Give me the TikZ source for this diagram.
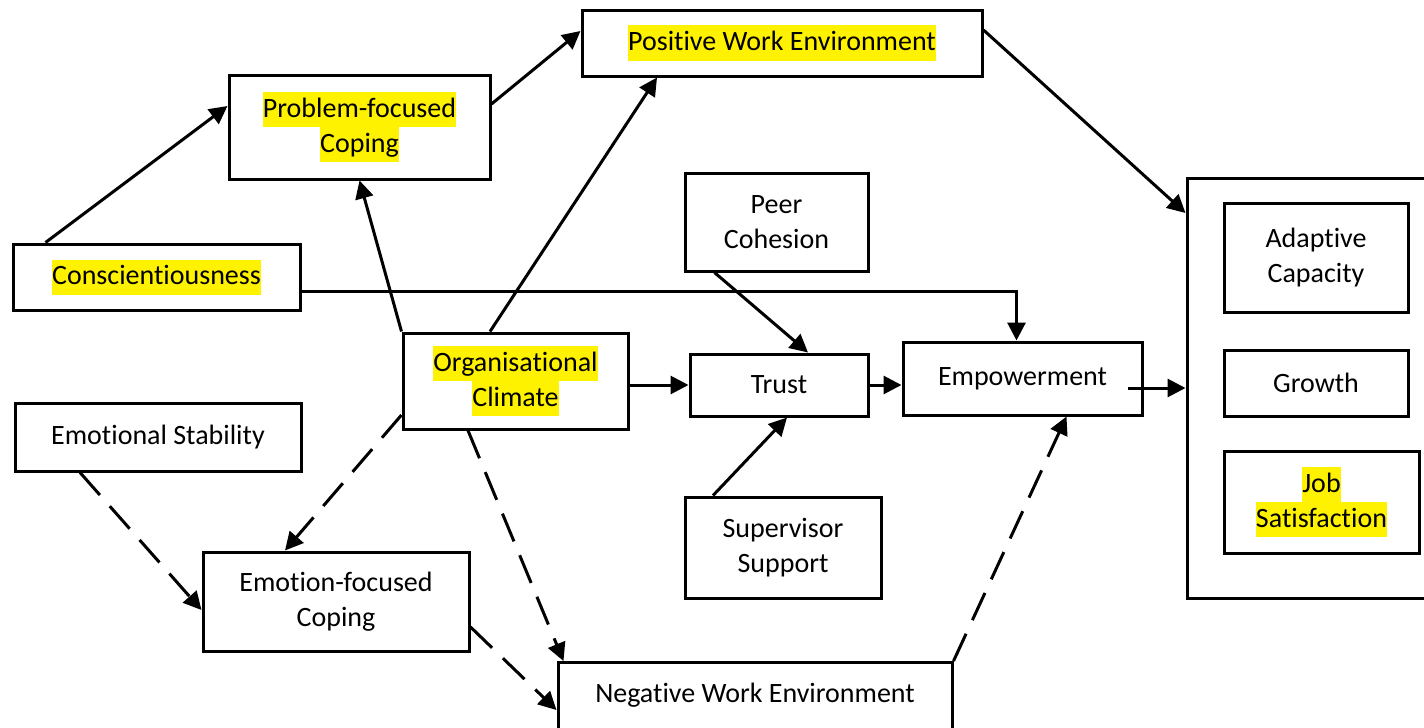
\documentclass[tikz,border=0pt]{standalone}
\usepackage{fontspec}
\setmainfont{Carlito}[Ligatures=NoCommon]
\usetikzlibrary{arrows.meta}
\newcommand\hlt[1]{{\setlength{\fboxsep}{0pt}\colorbox{yellow}{\rule[-5pt]{0pt}{17.5pt}#1}}}%黄色マーカー
\begin{document}
\begin{tikzpicture}[x=0.5pt,y=-0.5pt,%1px=0.5pt
  box/.style={draw, line width=1.5pt, align=center, inner sep=0pt, font=\fontsize{14pt}{17.5pt}\selectfont},
  arr/.style={line width=1.5pt, -{Triangle[length=9pt,width=9pt]}},
  dsh/.style={arr, dash pattern=on 15pt off 7.5pt}]
  \useasboundingbox (0,0) rectangle (1424,728);
  \node[box, minimum width=200pt, minimum height=33pt] (pwe) at (782,43) {\hlt{Positive Work Environment}};
  \node[box, minimum width=130.5pt, minimum height=52pt] (pfc) at (359.5,127) {\hlt{Problem-focused}\\\hlt{Coping}};
  \node[box, minimum width=143.5pt, minimum height=33pt] (con) at (156.5,277) {\hlt{Conscientiousness}};
  \node[box, minimum width=91.5pt, minimum height=49pt] (peer) at (776.5,222) {Peer\\Cohesion};
  \node[box, minimum width=112.5pt, minimum height=48pt] (oc) at (515.5,381) {\hlt{Organisational}\\\hlt{Climate}};
  \node[box, minimum width=89pt, minimum height=31pt] (trust) at (779,385) {Trust};
  \node[box, minimum width=119.5pt, minimum height=36.5pt] (emp) at (1022.5,378.5) {Empowerment};
  \node[box, minimum width=143pt, minimum height=34pt] (es) at (158,437) {Emotional Stability};
  \node[box, minimum width=98pt, minimum height=50.5pt] (ss) at (783,547.5) {Supervisor\\Support};
  \node[box, minimum width=133pt, minimum height=49.5pt] (efc) at (336,601.5) {Emotion-focused\\Coping};
  \node[box, minimum width=197pt, anchor=north, inner ysep=7.5pt, text height=12.5pt, text depth=40pt] (nwe) at (755,661) {Negative Work Environment};
  %結果の枠
  \node[box, minimum width=250pt, minimum height=210pt] (out) at (1437,388) {};
  \node[box, minimum width=92pt, minimum height=54.5pt] (ac) at (1316,257.5) {Adaptive\\Capacity};
  \node[box, minimum width=92pt, minimum height=33pt] (growth) at (1316,383) {Growth};
  \node[box, minimum width=97.5pt, minimum height=51pt] (js) at (1321.5,502) {\hlt{Job}\\\hlt{Satisfaction}};
  %実線の矢印
  \draw[arr] ([xshift=17pt]con.north west) -- ([yshift=10.5pt]pfc.west);
  \draw[arr] ([yshift=11.5pt]pfc.east) -- ([yshift=6pt]pwe.west);
  \draw[arr] (oc.north west) -- (pfc.south);
  \draw[arr] ([xshift=-12.75pt]oc.north) -- ([xshift=-62.5pt]pwe.south);
  \draw[arr] ([yshift=6.5pt]pwe.east) -- ([yshift=87.5pt]out.west);
  \draw[arr] ([yshift=-7pt]con.east) -| ([xshift=-3pt]emp.north);
  \draw[arr] ([xshift=-31pt]peer.south) -- ([xshift=14.5pt]trust.north);
  \draw[arr] (trust.west -| oc.east) -- (trust.west);
  \draw[arr] (trust.east) -- (trust.east -| emp.west);
  \draw[arr] ([xshift=-35pt]ss.north) -- ([xshift=4pt]trust.south);
  \draw[arr] ([xshift=-8pt]emp.east |- out.west) -- (out.west);
  %破線の矢印
  \draw[dsh] ([xshift=-39pt]es.south) -- ([yshift=-4.25pt]efc.west);
  \draw[dsh] ([yshift=-17pt]oc.west) -- ([xshift=-25.5pt]efc.north);
  \draw[dsh] ([xshift=-23.75pt]oc.south) -- ([xshift=3.5pt]nwe.north west);
  \draw[dsh] ([yshift=-12.75pt]efc.east) -- ([yshift=-24.5pt]nwe.north west);
  \draw[dsh] (nwe.north east) -- ([xshift=22pt]emp.south);
\end{tikzpicture}
\end{document}
